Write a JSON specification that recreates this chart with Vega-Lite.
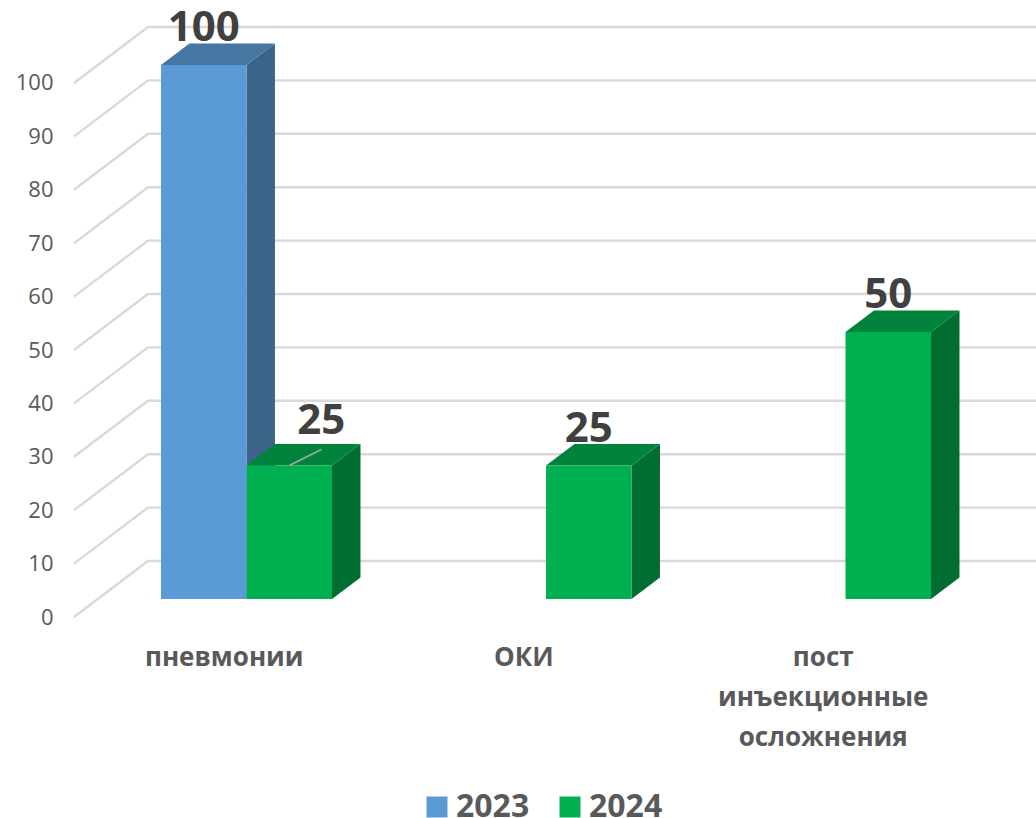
{
"$schema":"https://vega.github.io/schema/vega-lite/v6.json",
"width":962,"height":640,"autosize":"none",
"padding":{"left":74,"top":0,"right":0,"bottom":178},
"background":"white",
"config":{"view":{"stroke":null},"font":"Open Sans"},
"datasets":{
"bars":[
{"category":"пневмонии","year":"2023","value":100},
{"category":"пневмонии","year":"2024","value":25},
{"category":"ОКИ","year":"2024","value":25},
{"category":"пост инъекционные осложнения","year":"2024","value":50}],
"ticks":[{"tick":0},{"tick":10},{"tick":20},{"tick":30},{"tick":40},{"tick":50},{"tick":60},{"tick":70},{"tick":80},{"tick":90},{"tick":100}]
},
"resolve":{"scale":{"color":"independent"},"axis":{"x":"independent","y":"independent"}},
"layer":[
{"data":{"name":"ticks"},
"transform":[{"calculate":"[0,1,2]","as":"k"},{"flatten":["k"]},
{"calculate":"[0,0.247,3.212][datum.k]","as":"gx"},
{"calculate":"datum.tick+(datum.k>0?10.49:0)","as":"gy"}],
"mark":{"type":"line","color":"#d9d9d9","strokeWidth":2.4},
"encoding":{
"x":{"field":"gx","type":"quantitative","title":null,"scale":{"domain":[0,3.212],"nice":false,"zero":false},
"axis":{"values":[0.5,1.5,2.5],"grid":false,"domain":false,"ticks":false,"labelOverlap":false,"labelFlush":false,"labelLimit":400,
"labelExpr":"datum.value<1?'пневмонии':datum.value<2?'ОКИ':['пост','инъекционные','осложнения']",
"labelFont":"Open Sans","labelFontWeight":"bold","labelFontSize":26,"labelColor":"#595959","labelLineHeight":40,"labelPadding":4,"labelBaseline":"top"}},
"y":{"field":"gy","type":"quantitative","title":null,"scale":{"domain":[-4.307,115.543],"nice":false,"zero":false},
"axis":{"values":[0,10,20,30,40,50,60,70,80,90,100],"grid":false,"domain":false,"ticks":false,"labelFont":"Open Sans","labelFontSize":22,"labelColor":"#595959","labelPadding":21}},
"detail":{"field":"tick"},
"order":{"field":"k"}
}},
{"data":{"name":"bars"},
"transform":[{"calculate":"indexof(['пневмонии','ОКИ','пост инъекционные осложнения'],datum.category)+0.2905+(datum.year=='2024'?0.2855:0)","as":"x0"},
{"calculate":"[0,1]","as":"k"},{"flatten":["k"]},
{"calculate":"datum.x0+0.2855+datum.k*0.095","as":"sx"},
{"calculate":"datum.value+3.37+datum.k*4.03","as":"sy"},
{"calculate":"3.37+datum.k*4.03","as":"sy2"}],
"mark":{"type":"area","orient":"vertical"},
"encoding":{
"x":{"field":"sx","type":"quantitative","axis":null},
"y":{"field":"sy","type":"quantitative","axis":null},
"y2":{"field":"sy2"},
"detail":{"field":"category"},
"color":{"field":"year","type":"nominal","legend":null,"scale":{"domain":["2023","2024"],"range":["#3a6488","#006e31"]}}
}},
{"data":{"name":"bars"},
"transform":[{"calculate":"indexof(['пневмонии','ОКИ','пост инъекционные осложнения'],datum.category)+0.2905+(datum.year=='2024'?0.2855:0)","as":"x0"},
{"calculate":"[0,1]","as":"k"},{"flatten":["k"]},
{"calculate":"datum.x0+datum.k*0.095","as":"tx"},
{"calculate":"datum.x0+0.2855+datum.k*0.095","as":"tx2"},
{"calculate":"datum.value+3.37+datum.k*4.03","as":"ty"}],
"mark":{"type":"area","orient":"horizontal"},
"encoding":{
"y":{"field":"ty","type":"quantitative","axis":null},
"x":{"field":"tx","type":"quantitative","axis":null},
"x2":{"field":"tx2"},
"detail":{"field":"category"},
"color":{"field":"year","type":"nominal","legend":null,"scale":{"domain":["2023","2024"],"range":["#4677a3","#00843c"]}}
}},
{"data":{"name":"bars"},
"transform":[{"calculate":"indexof(['пневмонии','ОКИ','пост инъекционные осложнения'],datum.category)+0.2905+(datum.year=='2024'?0.2855:0)","as":"x0"},
{"calculate":"datum.x0+0.2855","as":"x1"},
{"calculate":"datum.value+3.37","as":"top"},
{"calculate":"3.37","as":"bottom"}],
"mark":{"type":"rect"},
"encoding":{
"x":{"field":"x0","type":"quantitative","axis":null},
"x2":{"field":"x1"},
"y":{"field":"top","type":"quantitative","axis":null},
"y2":{"field":"bottom"},
"color":{"field":"year","type":"nominal","scale":{"domain":["2023","2024"],"range":["#5b9bd5","#00b050"]},
"legend":{"title":null,"orient":"none","direction":"horizontal","legendX":347,"legendY":791,"symbolType":"square","symbolSize":441,"symbolStrokeWidth":0,"symbolOpacity":1,"labelFont":"Open Sans","labelFontWeight":"bold","labelFontSize":32,"labelColor":"#595959","columnPadding":24,"labelOffset":3,"padding":0}}
}},
{"data":{"name":"bars"},
"transform":[{"filter":"datum.category=='пневмонии'&&datum.year=='2024'"},
{"calculate":"indexof(['пневмонии','ОКИ','пост инъекционные осложнения'],datum.category)+0.2905+0.2855+0.1428","as":"lx"},
{"calculate":"datum.lx+0.107","as":"lx2"},
{"calculate":"datum.value+3.37","as":"ly"},
{"calculate":"datum.ly+3","as":"ly2"}],
"mark":{"type":"rule","color":"#a6a6a6","strokeWidth":1.5},
"encoding":{
"x":{"field":"lx","type":"quantitative","axis":null},
"x2":{"field":"lx2"},
"y":{"field":"ly","type":"quantitative","axis":null},
"y2":{"field":"ly2"}
}},
{"data":{"name":"bars"},
"transform":[{"filter":"!(datum.category=='пневмонии'&&datum.year=='2024')"},
{"calculate":"indexof(['пневмонии','ОКИ','пост инъекционные осложнения'],datum.category)+0.2905+(datum.year=='2024'?0.2855:0)+0.1428","as":"lx"},
{"calculate":"datum.value+3.37","as":"ly"}],
"mark":{"type":"text","font":"Open Sans","fontWeight":"bold","fontSize":42,"color":"#404040","baseline":"middle","align":"center","dy":-37},
"encoding":{
"x":{"field":"lx","type":"quantitative","axis":null},
"y":{"field":"ly","type":"quantitative","axis":null},
"text":{"field":"value","type":"quantitative"}
}},
{"data":{"name":"bars"},
"transform":[{"filter":"datum.category=='пневмонии'&&datum.year=='2024'"},
{"calculate":"indexof(['пневмонии','ОКИ','пост инъекционные осложнения'],datum.category)+0.2905+0.2855+0.1428","as":"lx"},
{"calculate":"datum.value+3.37","as":"ly"}],
"mark":{"type":"text","font":"Open Sans","fontWeight":"bold","fontSize":42,"color":"#404040","baseline":"middle","align":"center","dx":32,"dy":-45},
"encoding":{
"x":{"field":"lx","type":"quantitative","axis":null},
"y":{"field":"ly","type":"quantitative","axis":null},
"text":{"field":"value","type":"quantitative"}
}}
]
}
